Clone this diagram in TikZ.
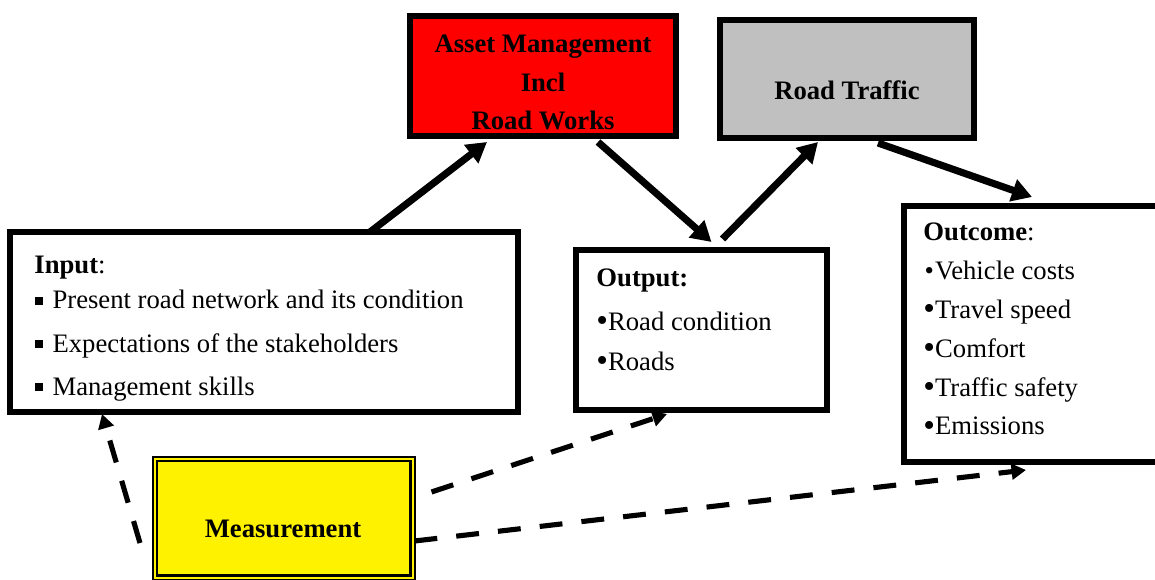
\documentclass[tikz,border=0pt]{standalone}
\usepackage{fontspec}
\setmainfont{Liberation Serif}
\usetikzlibrary{arrows.meta,calc,fit}

\definecolor{trafficgray}{HTML}{C0C0C0}
\newcommand{\bigbul}{{\fontsize{15}{15}\selectfont\raisebox{-0.6pt}{\textbullet}}}

\begin{document}
\begin{tikzpicture}[x=0.45pt,y=-0.45pt,
    every node/.style={font=\fontsize{12}{14}\selectfont},
    box/.style={draw, line width=2.6pt, inner sep=0pt, outer sep=0pt},
    txt/.style={anchor=base west, inner sep=0pt},
    head/.style={anchor=base, inner sep=0pt, font=\fontsize{12}{14}\selectfont\bfseries},
    flow/.style={line width=3.2pt, -{Triangle[length=9pt,width=10pt]}},
    dashflow/.style={line width=2.3pt, dash pattern=on 10.3pt off 8.6pt, -{Triangle[length=6.5pt,width=7pt]}}]
    \useasboundingbox (0,0) rectangle (1155,580);
    \clip (0,0) rectangle (1155,580);

    % boxes
    \node[box, fill=red, fit={(410,16) (676,136)}] (am) {};
    \node[box, fill=trafficgray, fit={(720,20) (974,138)}] (rt) {};
    \node[box, fill=white, fit={(10,232) (518,412)}] (inp) {};
    \node[box, fill=white, fit={(576,250) (827,410)}] (out) {};
    \node[box, fill=white, fit={(904,206) (1170,462)}] (oc) {};
    \node[draw, line width=1pt, double=yellow, double distance=0.9pt, fill=yellow,
          inner sep=0pt, outer sep=0pt, fit={(155,459) (412.5,577.5)}] (meas) {};

    % titles
    \foreach \lbl/\y [count=\i] in {Asset Management/53, Incl/92, Road Works/130}
        \node[head] (am\i) at (543,\y) {\lbl};
    \node[head] (rtt) at (847,100) {Road Traffic};
    \node[head] (meast) at (283,537) {Measurement};

    % input list
    \node[txt] (inph) at (34,274) {\textbf{Input}:};
    \foreach \lbl [count=\i] in {Present road network and its condition, Expectations of the stakeholders, Management skills}
        \node[txt] (inp\i) at (35,{266+43*\i}) {\rule[1.8pt]{3.4pt}{3.4pt}\hspace{4.3pt}\lbl};

    % output list
    \node[txt] (outh) at (596,287) {\textbf{Output:}};
    \node[txt] (out1) at (596,330) {\bigbul Road condition};
    \node[txt] (out2) at (596,370) {\bigbul Roads};

    % outcome list
    \node[txt] (och) at (923,241) {\textbf{Outcome}:};
    \node[txt] (oc1) at (923,280) {\makebox[5.2pt]{\textbullet}Vehicle costs};
    \foreach \lbl [count=\i from 2] in {Travel speed, Comfort, Traffic safety, Emissions}
        \node[txt] (oc\i) at (923,{241+38.75*\i}) {\bigbul\lbl};

    % solid flow
    \draw[flow] (370,0 |- inp.north) -- ($(am.south west)+(77,6)$);
    \draw[flow] ($(am.south west)+(188,6)$) -- ($(out.north)+(10,-8)$);
    \draw[flow] ($(out.north)+(21,-11)$) -- ($(rt.south west)+(98,4)$);
    \draw[flow] ($(rt.south west)+(158,5)$) -- ($(oc.north west)+(128,-9)$);

    % measurement feedback
    \draw[dashflow] ($(meas.north west)+(-15,84)$) -- ($(inp.south west)+(92,2)$);
    \draw[dashflow] ($(meas.north east)+(19,33)$) -- ($(out.south west)+(91,4)$);
    \draw[dashflow] ($(meas.north east)+(2,82)$) -- ($(oc.south west)+(122,8)$);
\end{tikzpicture}
\end{document}
